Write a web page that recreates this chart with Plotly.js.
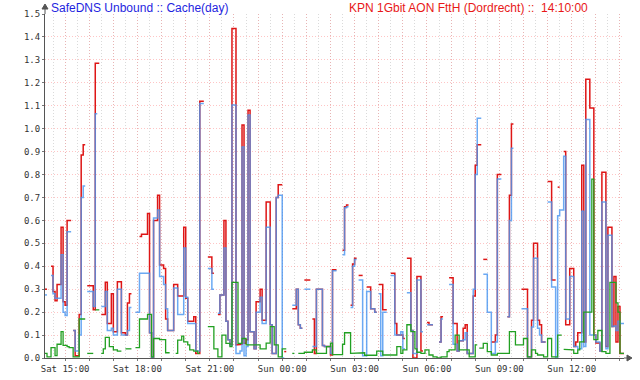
<!DOCTYPE html>
<html><head><meta charset="utf-8">
<script src="https://cdn.plot.ly/plotly-3.0.1.min.js"></script>
<style>html,body{margin:0;padding:0;background:#fff;}#chart{width:640px;height:380px;}</style>
</head><body><div id="chart"></div>
<script>
// RRD-style sampling: Sat 14:10 .. Sun 14:10, one value every 5 minutes
const startHour = 14 + 10/60;
const stepMinutes = 5;

const red = [
0.30,null,null,0.40,0.29,0.25,0.32,0.32,0.57,0.245,0.23,0.60,0.60,null,0.12,0.01,0.01,0.19,0.885,0.93,null,0.315,0.315,0.315,
0.21,1.285,1.285,null,0.19,0.19,0.33,0.15,0.15,0.28,0.115,0.115,0.333,0.333,0.11,0.11,0.10,0.24,0.28,null,null,null,null,0.53,
0.54,0.54,0.54,0.63,0.11,0.0,0.60,0.60,0.71,0.405,0.405,0.39,0.17,0.12,0.12,0.12,0.32,0.32,0.27,0.27,0.27,0.57,0.26,0.16,
0.16,0.16,0.18,0.02,0.02,1.12,1.12,null,null,0.44,0.44,0.37,null,null,0.19,0.275,0.275,0.60,0.16,0.08,0.06,1.437,1.437,0.057,
0.057,0.06,1.016,0.064,0.08,1.08,0.115,0.115,0.04,0.245,0.245,0.30,0.165,0.165,0.68,0.68,0.145,0.02,0.02,0.70,0.755,0.755,null,0.028,
null,null,null,0.215,0.215,0.30,0.145,0.13,null,0.34,0.34,0.34,null,0.17,0.02,0.30,0.30,0.30,0.055,0.05,0.05,0.05,0.013,0.385,
0.385,null,null,null,0.47,0.66,0.667,null,0.23,0.41,0.435,null,0.36,0.36,null,null,0.31,0.31,0.215,0.215,0.20,null,0.32,0.32,
0.21,0.21,null,null,0.37,0.37,0.15,0.10,0.10,0.10,0.085,null,0.435,0.435,0.12,0.0,0.0,0.355,0.355,0.03,null,null,0.155,0.145,
0.145,null,null,null,0.07,0.18,null,null,null,0.35,0.35,0.15,0.15,0.03,0.075,0.075,0.13,0.145,0.02,0.02,0.02,0.27,0.84,0.93,
0.93,null,0.43,0.43,null,null,0.07,0.07,0.10,0.80,0.80,null,null,null,0.18,0.71,1.02,null,null,null,null,0.30,0.30,0.30,
0.005,0.005,0.165,0.50,0.50,0.165,0.145,0.07,0.07,null,0.77,0.77,0.34,0.34,null,0.745,null,null,0.90,0.145,0.145,0.39,0.39,0.05,
0.07,0.11,0.11,0.84,0.07,1.216,1.216,1.09,1.09,0.10,0.065,0.065,0.03,0.81,0.81,0.05,0.57,0.57,0.137,0.355,0.07,0.225,0.02,0.02
];

const blue = [
0.275,null,null,0.36,0.28,0.26,0.26,0.26,0.45,0.20,0.185,0.55,0.55,null,0.12,0.03,0.03,0.10,0.70,0.75,null,0.29,0.29,0.29,
0.225,1.065,null,null,0.225,0.225,0.29,0.12,0.12,0.13,0.10,0.10,0.30,0.30,0.10,0.10,0.10,0.12,0.22,null,null,0.20,0.20,0.37,
0.37,0.37,0.37,0.37,0.11,0.0,0.61,0.61,0.645,0.355,0.355,0.32,0.215,0.12,0.12,0.12,0.305,0.305,0.19,0.19,0.19,0.48,0.265,0.15,
0.15,0.15,0.15,0.03,0.03,1.11,1.11,null,null,0.39,0.39,0.30,null,null,0.195,0.275,0.275,0.48,0.16,0.08,0.055,1.103,1.103,0.02,
0.02,0.03,0.92,0.01,0.05,1.06,0.115,0.115,0.04,0.20,0.20,0.265,0.15,0.15,0.57,0.57,0.145,0.02,0.02,0.70,0.71,0.71,0.0,null,
null,null,null,0.23,0.23,0.30,0.145,0.13,null,0.30,0.30,0.30,null,0.05,0.05,0.30,0.30,0.30,0.055,0.05,0.05,0.05,0.02,0.38,
0.38,null,null,null,0.45,0.655,0.66,null,0.22,0.40,0.43,null,0.34,0.34,0.01,0.01,0.29,0.29,0.215,0.215,0.20,null,0.28,0.01,
0.20,0.20,null,null,0.36,0.36,0.10,0.10,0.10,0.115,0.04,null,0.285,0.285,0.12,0.02,0.02,0.34,0.34,0.115,null,null,0.145,0.145,
0.145,null,null,null,0.07,0.17,null,null,null,0.32,0.32,0.06,0.06,0.03,0.075,0.075,0.08,0.11,0.02,0.02,0.02,0.30,0.80,1.045,
1.045,null,0.365,0.365,0.20,0.20,0.02,0.02,0.07,0.78,0.78,null,null,null,0.18,0.60,0.915,null,null,null,null,0.215,0.215,0.215,
0.005,0.005,0.135,0.435,0.435,0.13,0.10,0.07,0.07,null,0.68,0.68,0.31,0.31,0.0,0.62,0.645,0.645,0.88,0.17,0.17,0.355,0.355,0.05,
0.05,0.04,0.04,0.64,0.05,1.04,1.04,0.10,0.10,0.10,0.07,0.07,0.03,0.68,0.68,0.04,0.535,0.535,0.137,0.14,0.12,0.16,0.15,0.15
];

const green = [
0.02,0.005,0.005,0.045,0.045,0.01,0.06,0.06,0.115,0.055,0.055,0.05,0.045,0.045,0.005,0.005,0.005,0.17,0.17,0.17,null,0.02,0.02,0.02,
null,0.21,0.21,null,0.02,0.04,0.09,0.09,0.05,0.05,0.035,0.035,0.03,0.03,null,null,0.04,0.04,0.04,null,null,0.045,0.045,0.17,
0.17,0.17,0.17,0.19,0.19,0.005,0.085,0.085,0.085,0.08,0.08,0.08,0.023,0.023,null,null,null,0.02,0.078,0.078,0.095,0.07,0.07,0.057,
0.035,0.035,0.03,0.03,0.02,null,null,null,null,0.137,0.137,0.137,0.04,0.04,0.005,0.005,0.10,0.10,0.064,0.064,0.05,0.33,0.33,0.33,
0.064,0.064,0.085,0.085,0.057,0.057,0.057,0.057,0.057,0.057,0.057,0.04,0.04,0.04,0.065,0.065,0.137,0.137,0.057,0.057,0.005,0.005,0.04,0.04,
null,null,null,0.02,null,null,0.02,0.02,0.02,0.025,0.025,0.025,0.025,0.035,0.035,0.02,0.02,0.02,0.02,0.02,0.05,0.05,0.065,0.015,
0.015,0.015,0.015,0.015,0.06,0.11,0.11,0.11,0.02,0.02,0.02,0.02,0.023,0.023,0.023,0.012,0.012,0.012,0.012,0.012,0.012,0.03,0.03,0.03,
0.013,0.013,0.013,0.013,0.013,0.013,0.013,0.05,0.05,0.02,0.035,0.035,0.145,0.145,0.115,0.115,0.04,0.025,0.025,0.02,0.02,0.035,0.035,0.013,
0.013,0.005,0.005,0.0,0.0,0.005,0.005,0.005,0.028,0.035,0.035,0.035,0.10,0.10,0.035,0.035,0.035,0.035,0.035,0.005,0.005,0.005,0.057,null,
0.043,0.043,0.064,0.064,0.028,0.028,0.013,0.013,0.013,0.02,0.02,0.02,0.02,0.02,0.02,0.115,0.115,0.115,0.057,0.057,0.057,0.057,0.085,0.085,
0.005,0.005,0.035,0.035,0.02,0.013,0.013,0.013,0.005,0.005,0.085,0.085,0.005,0.005,0.005,0.10,0.10,null,0.038,0.038,0.035,0.035,0.035,0.02,
0.02,0.035,0.07,0.07,0.20,0.20,0.20,0.20,0.78,0.08,0.08,0.12,0.12,0.028,0.028,0.02,0.02,0.33,0.33,0.33,0.24,0.20,0.02,0.02
];

const tickHours = [15,16,17,18,19,20,21,22,23,24,25,26,27,28,29,30,31,32,33,34,35,36,37,38];
const tickLabels = ['Sat 15:00','','','Sat 18:00','','','Sat 21:00','','','Sun 00:00','','','Sun 03:00','','','Sun 06:00','','','Sun 09:00','','','Sun 12:00','',''];

const titleLeft = 'SafeDNS Unbound :: Cache(day)';
const titleRight = 'KPN 1Gbit AON FttH (Dordrecht) ::  14:10:00';

function steps(vals){
  const xs = [], ys = [];
  for (let i = 0; i < vals.length; i++){
    const v = vals[i];
    if (v === null){
      if (xs.length && xs[xs.length-1] !== null){ xs.push(null); ys.push(null); }
      continue;
    }
    const t0 = startHour + i*stepMinutes/60, t1 = startHour + (i+1)*stepMinutes/60;
    xs.push(t0, t1); ys.push(v, v);
  }
  return {xs, ys};
}

function trace(vals, color, w){
  const s = steps(vals);
  return {x:s.xs, y:s.ys, type:'scatter', mode:'lines', connectgaps:false,
          line:{color:color, width:w}, hoverinfo:'skip'};
}

const data = [
  trace(red, 'rgb(222,22,22)', 1.5),
  trace(blue, 'rgba(75,150,240,0.82)', 1.5),
  trace(green, 'rgb(34,160,34)', 1.3)
];

const W = 579, H = 344; // plot area size in px
const px = v => v / W, py = v => v / H;
const tickFont = {family:'DejaVu Sans Mono', size:9, color:'#333'};

const layout = {
  width:640, height:380,
  margin:{l:45, r:16, t:14, b:22, pad:0},
  paper_bgcolor:'#fff', plot_bgcolor:'#fff',
  showlegend:false,
  xaxis:{
    range:[startHour, startHour+24], tickmode:'array', tickvals:tickHours, ticktext:tickLabels,
    showgrid:true, gridcolor:'rgba(255,110,110,0.35)', griddash:'1px,2px', gridwidth:1,
    minor:{tickmode:'linear', tick0:14.5, dtick:0.5, showgrid:true, gridcolor:'rgba(150,150,150,0.35)', griddash:'1px,2px', ticks:''},
    showline:true, linecolor:'#555', linewidth:1, ticks:'outside', ticklen:2, tickcolor:'#777',
    tickfont:tickFont, zeroline:false, fixedrange:true
  },
  yaxis:{
    range:[0,1.5], tickmode:'linear', tick0:0, dtick:0.1, tickformat:'.1f',
    showgrid:true, gridcolor:'rgba(255,110,110,0.4)', griddash:'1px,2px', gridwidth:1,
    showline:true, linecolor:'#555', linewidth:1, ticks:'outside', ticklen:2, tickcolor:'#777',
    tickfont:tickFont, zeroline:false, fixedrange:true
  },
  annotations:[
    {text:titleLeft, xref:'paper', yref:'paper', x:px(4), y:1 + py(6), xanchor:'left', yanchor:'middle',
     showarrow:false, font:{family:'Liberation Sans', size:12, color:'#1f1fe0'}},
    {text:titleRight, xref:'paper', yref:'paper', x:px(302), y:1 + py(6), xanchor:'left', yanchor:'middle',
     showarrow:false, font:{family:'Liberation Sans', size:12, color:'#e81818'}}
  ],
  shapes:[
    {type:'line', xref:'paper', yref:'paper', x0:1, x1:px(586), y0:0, y1:0, line:{color:'#555', width:1}},
    {type:'path', xref:'paper', yref:'paper', path:`M ${px(582)} ${py(3)} L ${px(587)} 0 L ${px(582)} ${-py(3)} Z`, fillcolor:'#555', line:{color:'#555', width:1}},
    {type:'line', xref:'paper', yref:'paper', x0:0, x1:0, y0:1, y1:1 + py(6), line:{color:'#555', width:1}},
    {type:'path', xref:'paper', yref:'paper', path:`M ${-px(3)} ${1+py(5)} L 0 ${1+py(10)} L ${px(3)} ${1+py(5)} Z`, fillcolor:'#555', line:{color:'#555', width:1}}
  ]
};

Plotly.newPlot('chart', data, layout, {displayModeBar:false, staticPlot:true});
</script>
</body></html>
